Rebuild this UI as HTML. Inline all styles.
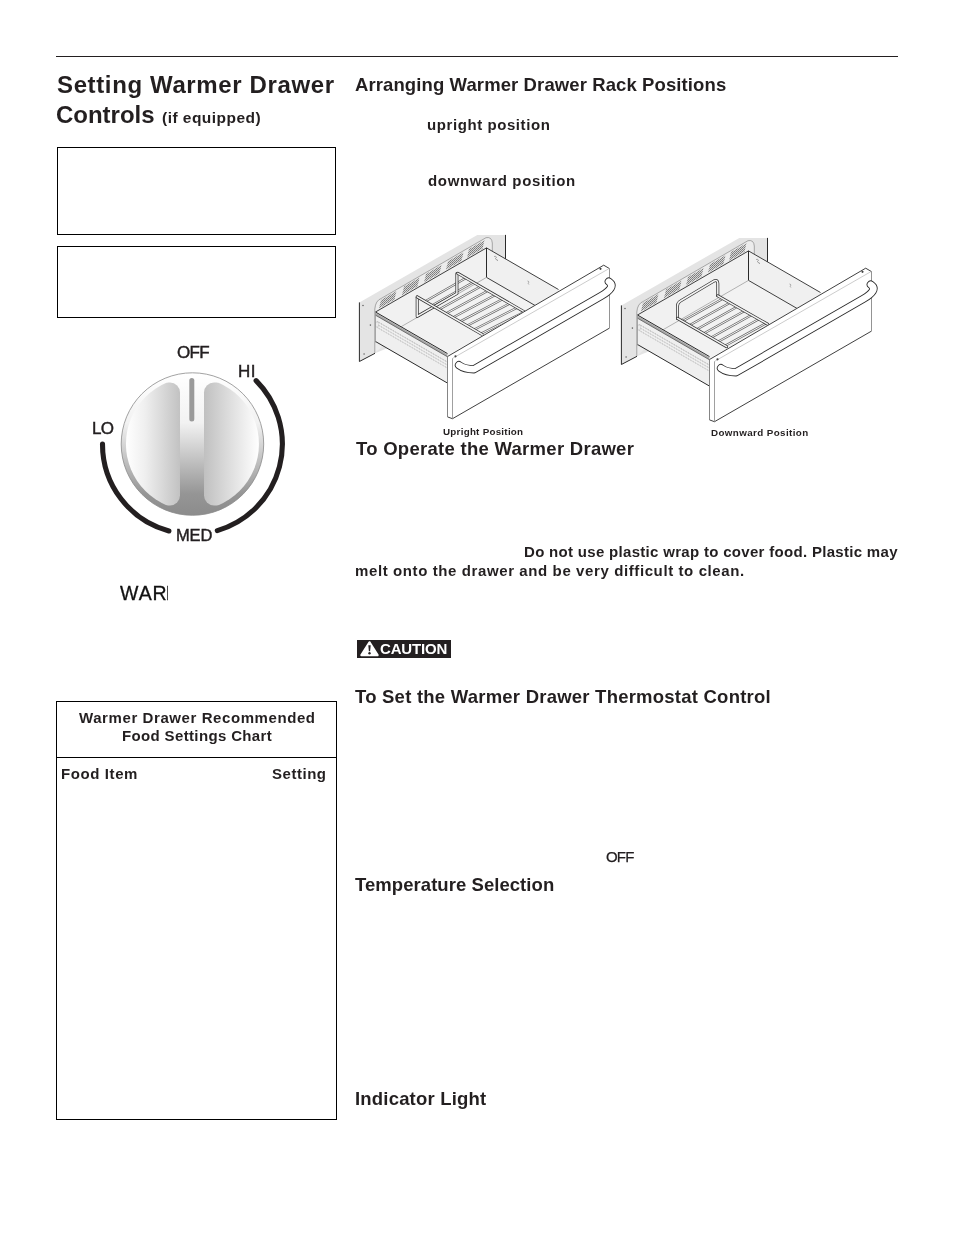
<!DOCTYPE html>
<html><head><meta charset="utf-8"><style>
html,body{margin:0;padding:0;background:#fff;width:954px;height:1235px;overflow:hidden}
body{position:relative;font-family:"Liberation Sans",sans-serif;color:#231f20}
.t{position:absolute;white-space:nowrap;line-height:1;will-change:transform}
.r{position:absolute}
.box{position:absolute;box-sizing:border-box;border:1px solid #000}
svg{position:absolute;left:0;top:0}
</style></head><body>
<svg width="954" height="1235" viewBox="0 0 954 1235">
<defs>
<pattern id="vent" width="2" height="2" patternUnits="userSpaceOnUse"><rect width="2" height="2" fill="#d6d6d6"/><rect width="1" height="1" fill="#7a7a7a"/><rect x="1" y="1" width="1" height="1" fill="#8a8a8a"/></pattern>
<pattern id="rail" width="2" height="2" patternUnits="userSpaceOnUse"><rect width="2" height="2" fill="#e0e0e0"/><rect width="1" height="2" fill="#888"/></pattern>
<g id="dbody"><polygon points="359.40,302.40 477.30,234.90 505.50,234.90 505.50,300.00 375.00,353.30 359.40,361.50" fill="#e4e4e4"/>
<polyline points="359.40,302.40 359.40,361.50 375.00,353.30" fill="none" stroke="#2a2a2a" stroke-width="1"/>
<line x1="505.5" y1="234.9" x2="505.5" y2="259" stroke="#2a2a2a" stroke-width="1"/>
<circle cx="363" cy="305.5" r="0.8" fill="#666"/>
<circle cx="370.4" cy="325.1" r="0.8" fill="#666"/>
<circle cx="364.1" cy="354" r="0.8" fill="#666"/>
<path d="M 374.8 353 L 374.8 309 Q 375.5 300.5 381.5 298.3 L 486 237.7 Q 491.8 236.5 492.3 243 L 492.3 252" fill="#ececec" stroke="#777" stroke-width="0.6"/>
<polygon points="381.00,299.89 396.50,290.94 394.50,299.54 379.00,308.49" fill="url(#vent)"/>
<polygon points="404.00,286.61 419.50,277.66 417.50,286.26 402.00,295.21" fill="url(#vent)"/>
<polygon points="426.00,273.91 441.50,264.96 439.50,273.56 424.00,282.51" fill="url(#vent)"/>
<polygon points="448.00,261.21 463.50,252.26 461.50,260.86 446.00,269.81" fill="url(#vent)"/>
<polygon points="469.00,249.08 484.50,240.13 482.50,248.73 467.00,257.68" fill="url(#vent)"/>
<polygon points="375.50,312.00 486.50,247.90 486.50,277.40 375.50,341.50" fill="#f1f1f1"/>
<polygon points="486.50,247.90 558.50,289.50 558.50,319.00 486.50,277.40" fill="#f0f0f0"/>
<polygon points="375.50,341.50 486.50,277.40 558.50,319.00 447.50,383.10" fill="#f2f2f2"/>
<line x1="486.5" y1="247.9" x2="486.5" y2="277.4" stroke="#2a2a2a" stroke-width="1"/>
<line x1="375.5" y1="312.0" x2="486.5" y2="247.9" stroke="#2a2a2a" stroke-width="0.9"/>
<line x1="486.5" y1="247.9" x2="558.5" y2="289.5" stroke="#2a2a2a" stroke-width="0.9"/>
<line x1="486.5" y1="277.4" x2="558.5" y2="319.0" stroke="#2a2a2a" stroke-width="0.9"/>
<line x1="375.5" y1="341.5" x2="486.5" y2="277.4" stroke="#888" stroke-width="0.6"/>
<path d="M 494 256.5 q 2 -1 2.5 1 q -2 0.5 -0.5 2 q 2 0 1.5 1.5" fill="none" stroke="#777" stroke-width="0.6"/>
<path d="M 527.5 281 q 1.5 0 1.2 1.5 q -1 1 0.2 2" fill="none" stroke="#777" stroke-width="0.6"/></g>
<g id="dleft"><polygon points="375.50,312.00 447.50,353.60 447.50,383.10 375.50,341.50" fill="#efefef"/>
<polygon points="375.50,312.80 447.50,354.40 447.50,356.80 375.50,315.20" fill="#a8a8a8"/>
<line x1="375.5" y1="315.2" x2="447.5" y2="356.8" stroke="#555" stroke-width="0.8"/>
<line x1="377.5" y1="321.65" x2="447.5" y2="362.1" stroke="#888" stroke-width="0.7" stroke-dasharray="1.2 0.8"/>
<line x1="377.5" y1="324.65" x2="447.5" y2="365.1" stroke="#999" stroke-width="0.7" stroke-dasharray="1.2 0.8"/>
<line x1="377.5" y1="327.65" x2="447.5" y2="368.1" stroke="#999" stroke-width="0.7" stroke-dasharray="1.2 0.8"/>
<rect x="376" y="322" width="2" height="5" fill="#fff" stroke="#999" stroke-width="0.4"/>
<line x1="375.5" y1="312.0" x2="447.5" y2="353.6" stroke="#2a2a2a" stroke-width="1"/>
<line x1="375.5" y1="341.5" x2="447.5" y2="383.1" stroke="#2a2a2a" stroke-width="1"/>
<line x1="375.5" y1="312.0" x2="375.5" y2="342.5" stroke="#888" stroke-width="0.7"/></g>
<g id="dfront"><polygon points="447.50,355.50 603.70,265.20 609.50,268.60 609.50,328.10 452.50,418.70 447.50,416.90" fill="#fff"/>
<polyline points="447.50,356.50 603.70,265.20 609.50,268.60" fill="none" stroke="#2a2a2a" stroke-width="0.9" stroke-linejoin="round"/>
<polyline points="609.50,328.10 452.50,418.70 447.50,416.90" fill="none" stroke="#2a2a2a" stroke-width="0.9" stroke-linejoin="round"/>
<line x1="447.5" y1="356" x2="447.5" y2="417" stroke="#777" stroke-width="0.9"/>
<line x1="609.5" y1="268.6" x2="609.5" y2="328.1" stroke="#888" stroke-width="0.9"/>
<line x1="452.5" y1="358.4" x2="452.5" y2="418.5" stroke="#888" stroke-width="0.8"/>
<line x1="452.5" y1="358.4" x2="609" y2="268.6" stroke="#999" stroke-width="0.5"/>
<circle cx="455.5" cy="356.3" r="1.1" fill="#444"/>
<circle cx="600.5" cy="268.8" r="1.1" fill="#444"/>
<path d="M 459 365.2 Q 464.5 369.3 474 369.3 L 601.5 295.8 C 610.5 290.5 614.5 285.5 608.8 281.6" fill="none" stroke="#2a2a2a" stroke-width="8.2" stroke-linecap="round" stroke-linejoin="round"/>
<path d="M 459 365.2 Q 464.5 369.3 474 369.3 L 601.5 295.8 C 610.5 290.5 614.5 285.5 608.8 281.6" fill="none" stroke="#fff" stroke-width="6.5" stroke-linecap="round" stroke-linejoin="round"/></g>
</defs>
<use href="#dbody"/>
<line x1="425.00" y1="301.41" x2="465.96" y2="278.03" stroke="#6a6a6a" stroke-width="2.3" stroke-linecap="round"/><line x1="425.00" y1="301.41" x2="465.96" y2="278.03" stroke="#f4f4f4" stroke-width="1.0" stroke-linecap="round"/>
<line x1="431.99" y1="305.45" x2="473.27" y2="282.26" stroke="#6a6a6a" stroke-width="2.3" stroke-linecap="round"/><line x1="431.99" y1="305.45" x2="473.27" y2="282.26" stroke="#f4f4f4" stroke-width="1.0" stroke-linecap="round"/>
<line x1="438.97" y1="309.50" x2="480.58" y2="286.50" stroke="#6a6a6a" stroke-width="2.3" stroke-linecap="round"/><line x1="438.97" y1="309.50" x2="480.58" y2="286.50" stroke="#f4f4f4" stroke-width="1.0" stroke-linecap="round"/>
<line x1="445.96" y1="313.54" x2="487.89" y2="290.73" stroke="#6a6a6a" stroke-width="2.3" stroke-linecap="round"/><line x1="445.96" y1="313.54" x2="487.89" y2="290.73" stroke="#f4f4f4" stroke-width="1.0" stroke-linecap="round"/>
<line x1="452.95" y1="317.58" x2="495.20" y2="294.97" stroke="#6a6a6a" stroke-width="2.3" stroke-linecap="round"/><line x1="452.95" y1="317.58" x2="495.20" y2="294.97" stroke="#f4f4f4" stroke-width="1.0" stroke-linecap="round"/>
<line x1="459.94" y1="321.62" x2="502.51" y2="299.21" stroke="#6a6a6a" stroke-width="2.3" stroke-linecap="round"/><line x1="459.94" y1="321.62" x2="502.51" y2="299.21" stroke="#f4f4f4" stroke-width="1.0" stroke-linecap="round"/>
<line x1="466.93" y1="325.66" x2="509.82" y2="303.44" stroke="#6a6a6a" stroke-width="2.3" stroke-linecap="round"/><line x1="466.93" y1="325.66" x2="509.82" y2="303.44" stroke="#f4f4f4" stroke-width="1.0" stroke-linecap="round"/>
<line x1="473.91" y1="329.71" x2="517.13" y2="307.68" stroke="#6a6a6a" stroke-width="2.3" stroke-linecap="round"/><line x1="473.91" y1="329.71" x2="517.13" y2="307.68" stroke="#f4f4f4" stroke-width="1.0" stroke-linecap="round"/>
<line x1="480.90" y1="333.75" x2="524.44" y2="311.91" stroke="#6a6a6a" stroke-width="2.3" stroke-linecap="round"/><line x1="480.90" y1="333.75" x2="524.44" y2="311.91" stroke="#f4f4f4" stroke-width="1.0" stroke-linecap="round"/>
<path d="M 417.2 296.9 L 417.2 316.4 L 456.9 293.5 L 456.9 273.6" fill="none" stroke="#333" stroke-width="3.0" stroke-linecap="round" stroke-linejoin="round"/><path d="M 417.2 296.9 L 417.2 316.4 L 456.9 293.5 L 456.9 273.6" fill="none" stroke="#f4f4f4" stroke-width="1.5" stroke-linecap="round" stroke-linejoin="round"/>
<line x1="417.20" y1="296.90" x2="482.20" y2="334.50" stroke="#333" stroke-width="3.0" stroke-linecap="round"/><line x1="417.20" y1="296.90" x2="482.20" y2="334.50" stroke="#f4f4f4" stroke-width="1.5" stroke-linecap="round"/>
<line x1="457.80" y1="273.30" x2="525.80" y2="312.70" stroke="#333" stroke-width="3.0" stroke-linecap="round"/><line x1="457.80" y1="273.30" x2="525.80" y2="312.70" stroke="#f4f4f4" stroke-width="1.5" stroke-linecap="round"/>
<use href="#dleft"/>
<use href="#dfront"/>
<g transform="translate(262,3)"><use href="#dbody"/></g>
<line x1="682.41" y1="321.23" x2="722.77" y2="298.63" stroke="#6a6a6a" stroke-width="2.3" stroke-linecap="round"/><line x1="682.41" y1="321.23" x2="722.77" y2="298.63" stroke="#f4f4f4" stroke-width="1.0" stroke-linecap="round"/>
<line x1="689.53" y1="325.33" x2="729.98" y2="302.73" stroke="#6a6a6a" stroke-width="2.3" stroke-linecap="round"/><line x1="689.53" y1="325.33" x2="729.98" y2="302.73" stroke="#f4f4f4" stroke-width="1.0" stroke-linecap="round"/>
<line x1="696.65" y1="329.44" x2="737.18" y2="306.84" stroke="#6a6a6a" stroke-width="2.3" stroke-linecap="round"/><line x1="696.65" y1="329.44" x2="737.18" y2="306.84" stroke="#f4f4f4" stroke-width="1.0" stroke-linecap="round"/>
<line x1="703.77" y1="333.54" x2="744.39" y2="310.94" stroke="#6a6a6a" stroke-width="2.3" stroke-linecap="round"/><line x1="703.77" y1="333.54" x2="744.39" y2="310.94" stroke="#f4f4f4" stroke-width="1.0" stroke-linecap="round"/>
<line x1="710.89" y1="337.64" x2="751.60" y2="315.04" stroke="#6a6a6a" stroke-width="2.3" stroke-linecap="round"/><line x1="710.89" y1="337.64" x2="751.60" y2="315.04" stroke="#f4f4f4" stroke-width="1.0" stroke-linecap="round"/>
<line x1="718.01" y1="341.75" x2="758.80" y2="319.15" stroke="#6a6a6a" stroke-width="2.3" stroke-linecap="round"/><line x1="718.01" y1="341.75" x2="758.80" y2="319.15" stroke="#f4f4f4" stroke-width="1.0" stroke-linecap="round"/>
<line x1="725.13" y1="345.85" x2="766.01" y2="323.25" stroke="#6a6a6a" stroke-width="2.3" stroke-linecap="round"/><line x1="725.13" y1="345.85" x2="766.01" y2="323.25" stroke="#f4f4f4" stroke-width="1.0" stroke-linecap="round"/>
<path d="M 677.5 318.4 L 677.5 306 Q 677.5 302.7 680.5 301 L 714 281 Q 717.8 279.5 717.8 283.5 L 717.8 295.8" fill="none" stroke="#333" stroke-width="3.0" stroke-linecap="round" stroke-linejoin="round"/><path d="M 677.5 318.4 L 677.5 306 Q 677.5 302.7 680.5 301 L 714 281 Q 717.8 279.5 717.8 283.5 L 717.8 295.8" fill="none" stroke="#f4f4f4" stroke-width="1.5" stroke-linecap="round" stroke-linejoin="round"/>
<line x1="677.50" y1="318.40" x2="726.60" y2="346.70" stroke="#333" stroke-width="3.0" stroke-linecap="round"/><line x1="677.50" y1="318.40" x2="726.60" y2="346.70" stroke="#f4f4f4" stroke-width="1.5" stroke-linecap="round"/>
<line x1="717.80" y1="295.80" x2="767.50" y2="324.10" stroke="#333" stroke-width="3.0" stroke-linecap="round"/><line x1="717.80" y1="295.80" x2="767.50" y2="324.10" stroke="#f4f4f4" stroke-width="1.5" stroke-linecap="round"/>
<g transform="translate(262,3)"><use href="#dleft"/><use href="#dfront"/></g>
</svg>
<svg width="954" height="1235" viewBox="0 0 954 1235">
<defs>
<linearGradient id="kb" x1="0" y1="0" x2="0" y2="1">
<stop offset="0" stop-color="#ffffff"/><stop offset="0.35" stop-color="#f2f2f2"/><stop offset="0.6" stop-color="#c4c4c4"/><stop offset="0.85" stop-color="#959595"/><stop offset="1" stop-color="#8c8c8c"/>
</linearGradient>
<linearGradient id="kl" x1="126" y1="0" x2="180" y2="0" gradientUnits="userSpaceOnUse">
<stop offset="0" stop-color="#ffffff"/><stop offset="0.35" stop-color="#efefef"/><stop offset="1" stop-color="#c2c2c2"/>
</linearGradient>
<linearGradient id="kr" x1="204" y1="0" x2="259" y2="0" gradientUnits="userSpaceOnUse">
<stop offset="0" stop-color="#c0c0c0"/><stop offset="0.6" stop-color="#e6e6e6"/><stop offset="1" stop-color="#ffffff"/>
</linearGradient>
<clipPath id="kc"><circle cx="192.45" cy="444.05" r="66.5"/></clipPath>
</defs>
<circle cx="192.45" cy="444.05" r="71.25" fill="url(#kb)" stroke="#8a8a8a" stroke-width="0.8"/>
<g clip-path="url(#kc)">
<rect x="110" y="382.5" width="70" height="123" rx="10" fill="url(#kl)"/>
<rect x="204" y="382.5" width="70" height="123" rx="10" fill="url(#kr)"/>
</g>
<line x1="191.8" y1="380.5" x2="191.8" y2="419" stroke="#9a9a9a" stroke-width="5" stroke-linecap="round"/>
<path d="M 102.5 444 A 90 90 0 0 0 168.9 531" fill="none" stroke="#231f20" stroke-width="5.1" stroke-linecap="round"/>
<path d="M 256.1 380.6 A 90 90 0 0 1 217.3 530.6" fill="none" stroke="#231f20" stroke-width="5.1" stroke-linecap="round"/>
</svg>

<div class="r" style="left:357px;top:640px;width:94px;height:18px;background:#231f20"></div>
<svg width="954" height="1235" viewBox="0 0 954 1235" style="position:absolute;left:0;top:0">
<path d="M 369.5 642.3 L 377.6 655.2 L 361.4 655.2 Z" fill="#fff" stroke="#fff" stroke-width="2.2" stroke-linejoin="round"/>
<path d="M 368.3 645.2 L 370.7 645.2 L 370.1 651.2 L 368.9 651.2 Z" fill="#231f20"/>
<circle cx="369.5" cy="653.2" r="1.2" fill="#231f20"/>
</svg>

<div class="r" style="left:56px;top:56px;width:842px;height:1px;background:#231f20"></div>
<div class="box" style="left:57px;top:147px;width:279px;height:88px"></div>
<div class="box" style="left:57px;top:246px;width:279px;height:72px"></div>
<div class="box" style="left:56px;top:701px;width:281px;height:419px"></div>
<div class="r" style="left:56px;top:757px;width:281px;height:1px;background:#000"></div>
<div class="t" style="left:56.8px;top:72.9px;font-size:24px;font-weight:700;letter-spacing:0.625px;">Setting Warmer Drawer</div>
<div class="t" style="left:55.9px;top:102.7px;font-size:24px;font-weight:700;letter-spacing:-0.014px;">Controls</div>
<div class="t" style="left:162.3px;top:109.8px;font-size:15.5px;font-weight:700;letter-spacing:0.467px;">(if equipped)</div>
<div class="t" style="left:354.7px;top:75.9px;font-size:18.5px;font-weight:700;letter-spacing:0.103px;">Arranging Warmer Drawer Rack Positions</div>
<div class="t" style="left:427.2px;top:116.7px;font-size:15px;font-weight:700;letter-spacing:0.58px;">upright position</div>
<div class="t" style="left:428px;top:172.8px;font-size:15px;font-weight:700;letter-spacing:0.663px;">downward position</div>
<div class="t" style="left:442.6px;top:427.2px;font-size:9.8px;font-weight:700;letter-spacing:0.26px;">Upright Position</div>
<div class="t" style="left:710.6px;top:428.1px;font-size:9.8px;font-weight:700;letter-spacing:0.394px;">Downward Position</div>
<div class="t" style="left:355.7px;top:439.9px;font-size:18.5px;font-weight:700;letter-spacing:0.278px;">To Operate the Warmer Drawer</div>
<div class="t" style="left:524.0px;top:543.9px;font-size:15px;font-weight:700;letter-spacing:0.308px;">Do not use plastic wrap to cover food. Plastic may</div>
<div class="t" style="left:355.2px;top:562.5px;font-size:15px;font-weight:700;letter-spacing:0.604px;">melt onto the drawer and be very difficult to clean.</div>
<div class="t" style="left:355.4px;top:687.6px;font-size:18.5px;font-weight:700;letter-spacing:0.229px;">To Set the Warmer Drawer Thermostat Control</div>
<div class="t" style="left:606px;top:848.9px;font-size:15px;font-weight:400;letter-spacing:-0.8px;-webkit-text-stroke:0.25px #231f20;">OFF</div>
<div class="t" style="left:355.3px;top:875.8px;font-size:18.5px;font-weight:700;letter-spacing:0.055px;">Temperature Selection</div>
<div class="t" style="left:355.3px;top:1090px;font-size:18.5px;font-weight:700;letter-spacing:0.193px;">Indicator Light</div>
<div class="t" style="left:78.8px;top:709.8px;font-size:15px;font-weight:700;letter-spacing:0.583px;">Warmer Drawer Recommended</div>
<div class="t" style="left:121.8px;top:727.7px;font-size:15px;font-weight:700;letter-spacing:0.356px;">Food Settings Chart</div>
<div class="t" style="left:60.9px;top:765.9px;font-size:15px;font-weight:700;letter-spacing:0.6px;">Food Item</div>
<div class="t" style="left:272.4px;top:765.9px;font-size:15px;font-weight:700;letter-spacing:0.533px;">Setting</div>
<div class="t" style="left:176.5px;top:344.4px;font-size:17px;font-weight:400;letter-spacing:-0.65px;-webkit-text-stroke:0.45px #231f20;">OFF</div>
<div class="t" style="left:237.9px;top:362.8px;font-size:17px;font-weight:400;letter-spacing:1.1px;-webkit-text-stroke:0.45px #231f20;letter-spacing:0.4px;">HI</div>
<div class="t" style="left:92px;top:419.7px;font-size:17px;font-weight:400;letter-spacing:-0.7px;-webkit-text-stroke:0.45px #231f20;">LO</div>
<div class="t" style="left:175.7px;top:527px;font-size:16.5px;font-weight:400;letter-spacing:-0.15px;-webkit-text-stroke:0.45px #231f20;">MED</div>
<div class="t" style="left:119.9px;top:583.9px;width:48.29999999999998px;overflow:hidden;-webkit-text-stroke:0.3px #111;font-size:19.5px;font-weight:400;letter-spacing:0.95px;color:#111">WAR<span style="margin-left:-1.8px">M</span></div>
<div class="t" style="left:380.4px;top:641.2px;font-size:15px;font-weight:700;letter-spacing:-0.183px;color:#fff">CAUTION</div>

</body></html>
